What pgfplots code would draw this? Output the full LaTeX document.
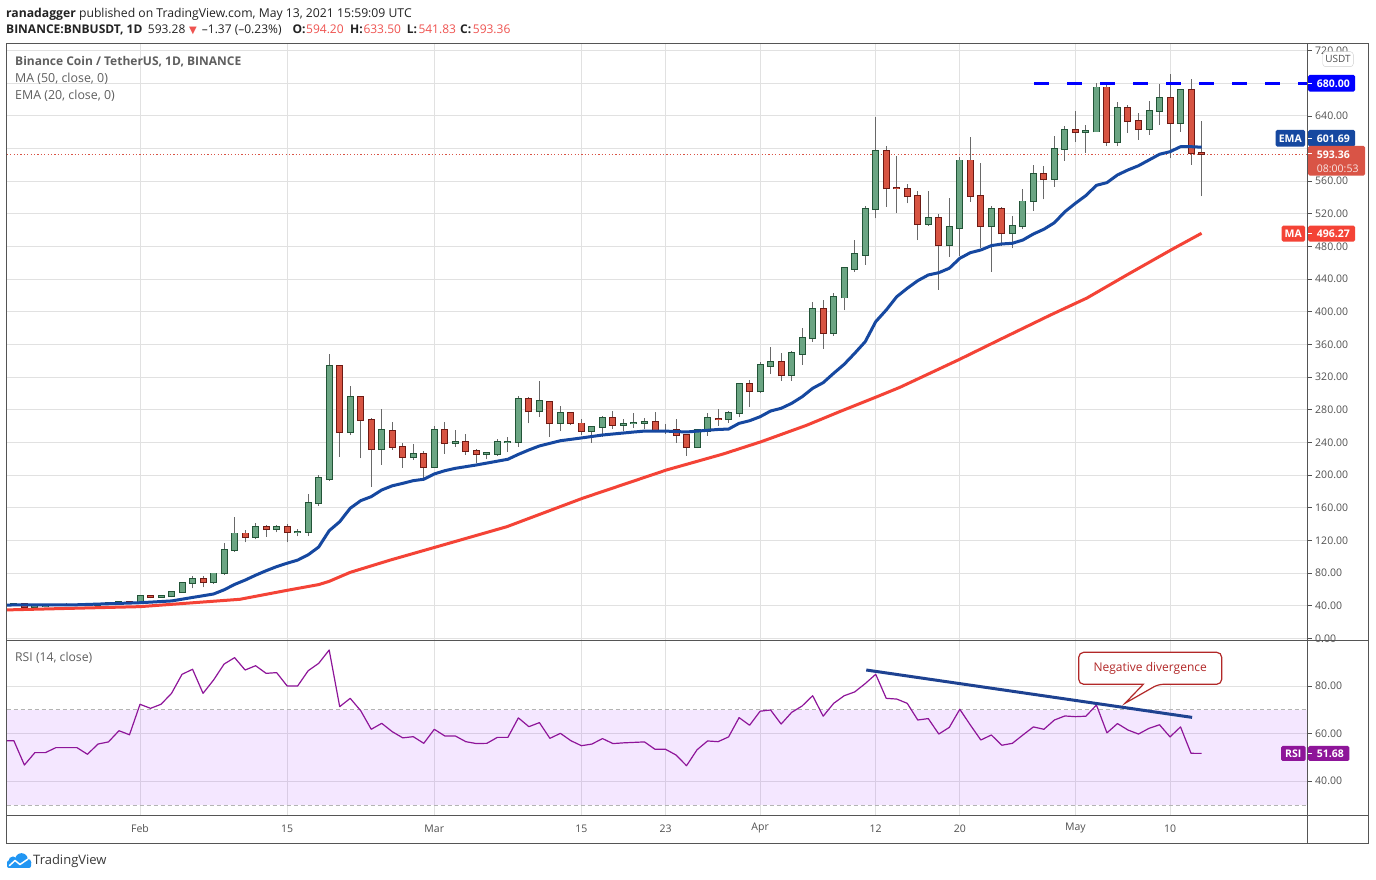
\documentclass[border=0pt]{standalone}
\usepackage{fontspec}
\setmainfont{Open Sans}
\newfontfamily\djv{DejaVu Sans}
\usepackage{pgfplots}
\pgfplotsset{compat=1.18}
\usepackage{pgfplotstable}

\definecolor{gfill}{RGB}{107,165,131}
\definecolor{gbord}{RGB}{34,84,55}
\definecolor{rfill}{RGB}{215,84,66}
\definecolor{rbord}{RGB}{110,26,20}
\definecolor{wick}{RGB}{105,105,105}
\definecolor{emac}{RGB}{22,72,160}
\definecolor{mac}{RGB}{244,67,54}
\definecolor{rsic}{RGB}{142,21,153}
\definecolor{bandc}{RGB}{153,21,255}
\definecolor{gridc}{RGB}{225,225,225}
\definecolor{framec}{RGB}{85,85,85}
\definecolor{tickc}{RGB}{80,80,80}
\definecolor{hdr}{RGB}{35,35,35}
\definecolor{legc}{RGB}{95,95,95}
\definecolor{hred}{RGB}{239,83,80}
\definecolor{lineblue}{RGB}{0,0,255}
\definecolor{closec}{RGB}{217,84,70}
\definecolor{trendc}{RGB}{30,66,145}
\definecolor{callc}{RGB}{178,40,40}
\definecolor{tvblue}{RGB}{33,150,243}
\definecolor{dashg}{RGB}{180,180,180}

\newcommand\fs[1]{\fontsize{#1}{#1}\selectfont}

\pgfplotstableread{
d O H L C
19 41.5 43.8 39.8 42.0
21 38.5 41.9 36.1 39.8
22 39.8 41.0 39.0 40.3
23 40.3 41.5 39.5 41.2
24 41.2 43.0 40.0 41.5
25 41.5 42.5 40.0 41.8
27 40.3 43.0 39.8 42.6
28 42.6 45.0 41.5 43.3
29 43.3 46.0 42.5 45.5
31 43.5 52.0 42.5 51.7
33 51.2 53.0 50.0 51.8
34 51.8 57.5 50.5 56.6
35 56.6 68.5 56.0 67.6
36 67.6 76.5 61.5 72.5
38 68.8 80.5 67.0 79.8
39 79.8 117.3 78.0 108.0
40 108.0 149.0 106.0 128.8
42 123.9 141.5 121.5 136.2
44 133.7 139.0 130.0 136.2
46 130.0 134.0 125.0 130.5
47 130.5 177.0 125.5 165.6
48 165.6 200.0 162.6 196.2
49 195.0 348.4 193.0 333.4
51 252.5 309.0 249.0 295.4
54 231.7 281.0 212.5 255.4
57 221.9 238.0 218.6 225.6
59 209.7 260.0 209.7 255.0
61 239.0 255.4 235.0 240.3
64 225.6 229.0 219.5 226.8
65 226.3 244.3 224.0 240.3
66 240.3 247.0 228.4 241.2
67 240.3 297.0 235.0 293.0
69 277.8 315.4 271.6 290.5
71 263.5 284.8 254.1 275.8
74 253.8 260.0 239.8 258.7
75 258.7 272.5 247.2 269.7
77 261.8 268.5 254.5 262.8
78 263.8 275.8 258.0 264.6
79 264.0 270.4 256.2 264.8
84 234.2 255.5 233.0 255.0
85 254.5 276.6 248.4 269.7
87 268.5 278.6 264.3 275.8
88 275.8 311.3 270.9 311.3
90 302.3 338.3 300.3 334.6
91 334.1 357.0 324.0 338.3
93 321.9 352.1 315.7 349.3
94 348.8 379.9 335.0 367.7
95 367.2 412.0 363.5 403.2
97 374.5 423.5 370.5 417.9
98 417.4 453.4 402.3 453.4
99 452.9 488.0 449.2 470.5
100 470.0 529.7 457.8 525.7
101 525.7 639.0 514.6 596.7
106 508.0 548.0 505.6 514.6
108 481.1 539.9 467.6 503.6
109 503.1 589.3 468.5 585.6
112 504.8 529.7 449.2 525.7
114 495.8 517.5 477.9 504.8
115 504.8 550.5 501.2 535.4
116 535.4 579.9 524.0 568.5
118 562.4 615.4 553.3 599.1
119 599.1 627.7 585.2 622.4
121 620.0 628.9 595.0 621.2
122 620.7 680.0 620.7 675.0
124 608.4 657.4 603.2 650.0
127 623.6 658.3 617.0 646.1
128 646.1 679.0 629.3 661.6
130 631.0 672.4 620.7 671.4
}\greentab

\pgfplotstableread{
d O H L C
20 42.6 43.0 37.5 38.2
26 41.8 42.5 39.5 40.3
30 45.5 46.0 42.5 43.5
32 51.7 52.5 49.0 51.2
37 72.5 76.0 62.5 68.8
41 128.8 132.5 117.8 123.9
43 136.2 139.0 124.7 133.7
45 136.2 140.6 117.8 130.0
50 333.4 335.0 222.7 252.5
52 295.4 296.0 220.7 267.2
53 267.2 269.7 186.0 231.7
55 253.8 265.0 230.9 234.9
56 234.2 239.0 209.2 221.9
58 225.6 229.6 194.1 209.7
60 255.0 265.0 226.0 239.0
62 240.3 250.5 225.0 229.3
63 229.6 232.0 215.3 225.6
68 293.0 295.4 263.5 277.8
70 289.3 290.9 247.2 263.5
72 275.8 277.8 261.5 263.5
73 263.5 268.5 249.2 254.5
76 269.7 278.6 256.6 261.8
80 264.8 277.4 252.5 254.5
81 254.8 262.7 250.5 254.3
82 255.0 268.5 239.8 248.9
83 248.9 249.5 223.9 234.2
86 269.3 281.0 260.6 268.3
89 311.3 316.6 283.9 302.3
92 338.3 349.7 315.7 321.9
96 403.2 414.6 355.0 374.5
102 596.7 603.2 528.8 550.9
103 551.5 591.0 520.8 550.9
104 550.2 556.6 533.0 541.6
105 541.6 548.0 488.0 508.0
107 514.6 519.9 426.8 481.6
110 585.6 613.8 535.0 542.3
111 542.3 582.0 477.9 504.8
113 525.7 528.0 481.1 495.8
117 568.5 578.7 537.9 562.4
120 622.4 646.4 608.4 620.0
123 675.0 680.0 603.2 608.4
125 650.0 653.4 619.5 633.4
126 633.4 644.0 610.5 623.6
129 661.6 691.4 588.1 631.0
131 671.4 684.9 579.9 594.2
132 594.2 633.5 541.83 593.36
}\redtab

\pgfplotsset{
  tvaxis/.style={
    scale only axis, width=1301pt,
    xmin=18.317, xmax=142.1,
    axis line style={draw=none},
    xtick={31,45,59,73,81,90,101,109,120,129},
    xmajorgrids, ymajorgrids,
    grid style={draw=gridc, line width=0.9pt},
    xtick style={draw=none},
    ytick pos=right, yticklabel pos=right,
    tick align=outside, major tick length=4pt,
    ytick style={draw=tickc, line width=0.8pt},
    yticklabel style={font=\fs{10.5}, text=tickc},
    /pgf/number format/assume math mode=true,
    scaled y ticks=false,
  },
  wickst/.style={draw=none, mark=none, error bars/.cd, y dir=plus, y explicit, error mark=none,
     error bar style={draw=wick, line width=1pt, solid}},
  bodyst/.style={draw=none, mark=none, error bars/.cd, y dir=plus, y explicit, error mark=none,
     error bar style={draw=#1, line width=7pt, solid}},
  fillst/.style={draw=none, mark=none, error bars/.cd, y dir=plus, y explicit, error mark=none,
     error bar style={draw=#1, line width=5pt, solid}},
}

\begin{document}
\begin{tikzpicture}[x=1pt,y=1pt]
\useasboundingbox (0,0) rectangle (1376,880);
\fill[white] (0,0) rectangle (1376,880);

% ---------------- main price panel
\begin{axis}[tvaxis, at={(6.7pt,239.5pt)}, anchor=south west, height=597pt,
  ymin=-2.45, ymax=728.7, ytick={0,40,...,720},
  yticklabels={0.00,40.00,80.00,120.00,160.00,200.00,240.00,280.00,320.00,360.00,400.00,440.00,480.00,520.00,560.00,,640.00,,720.00},
  xticklabels={}]
\addplot[closec, mark=none, line width=0.9pt, dash pattern=on 1.2pt off 2.2pt] coordinates {(18.317,593.36) (142.1,593.36)};
% wicks
\addplot[wickst] table[x=d, y=L, y error plus expr={\thisrow{H}-\thisrow{L}}] {\greentab};
\addplot[wickst] table[x=d, y=L, y error plus expr={\thisrow{H}-\thisrow{L}}] {\redtab};
% bodies
\addplot[bodyst=gbord] table[x=d, y expr={min(\thisrow{O},\thisrow{C})-1.0}, y error plus expr={abs(\thisrow{C}-\thisrow{O})+2.0}] {\greentab};
\addplot[fillst=gfill] table[x=d, y expr={min(\thisrow{O},\thisrow{C})+0.2}, y error plus expr={max(abs(\thisrow{C}-\thisrow{O})-0.4,0)}] {\greentab};
\addplot[bodyst=rbord] table[x=d, y expr={min(\thisrow{O},\thisrow{C})-1.0}, y error plus expr={abs(\thisrow{C}-\thisrow{O})+2.0}] {\redtab};
\addplot[fillst=rfill] table[x=d, y expr={min(\thisrow{O},\thisrow{C})+0.2}, y error plus expr={max(abs(\thisrow{C}-\thisrow{O})-0.4,0)}] {\redtab};
% MA 50
\addplot[mac, mark=none, line width=3pt, line join=round] coordinates {
(18.317,35.0) (31,39.0) (40.5,48.0) (45,59.0) (48,66.0) (49,70.0) (51,81.0) (54.8,96.0) (59.5,113.3) (65.9,136.9) (73.1,171.7) (81.1,206.4) (86.5,226.0) (90.1,241.0) (94.4,261.0) (97.6,278.0) (101.1,296.0) (103.3,307.6) (109,342.0) (112.8,366.0) (117.6,396.0) (121.1,417.0) (125,446.0) (129.2,476.6) (132,496.27)};
% EMA 20
\addplot[emac, mark=none, line width=3pt, line join=round] coordinates {
(18.317,41.0) (25,41.3) (31,43.8) (34,46.0) (38,54.5) (39,59.6) (40,66.2) (41,71.5) (42,77.5) (43,83.0) (44,88.0) (45,92.2) (46,96.0) (47,102.5) (48,112.0) (49,132.0) (50,143.0) (51,159.5) (52,168.8) (53,173.7) (54,181.9) (55,187.0) (56,190.0) (57,193.3) (58,195.0) (59,201.5) (60,205.5) (61,208.4) (63,212.5) (66,219.5) (67,225.5) (68,230.9) (69,235.8) (71,242.2) (73,245.6) (75,249.2) (78,252.9) (79,254.0) (81,254.0) (83,252.9) (85,255.0) (86,256.0) (87,256.5) (88,263.5) (89,266.7) (90,271.6) (91,278.6) (92,281.9) (93,288.0) (94,296.1) (95,306.4) (96,313.3) (97,324.8) (98,335.8) (99,349.3) (100,363.5) (101,388.0) (102,402.3) (103,418.6) (104,428.9) (105,438.2) (106,445.2) (107,448.0) (108,453.4) (109,465.6) (110,472.5) (111,475.8) (112,481.1) (113,483.2) (114,484.0) (115,488.0) (116,495.4) (117,501.2) (118,509.2) (119,522.7) (120,533.0) (121,542.5) (122,555.0) (123,558.3) (124,567.7) (125,573.8) (126,579.0) (127,586.0) (128,593.0) (129,596.2) (130,602.3) (131,602.3) (132,601.69)};
% resistance 680
\addplot[lineblue, mark=none, line width=3pt, dash pattern=on 15pt off 18pt] coordinates {(116.06,680) (142.1,680)};
\end{axis}

% ---------------- RSI panel
\begin{axis}[tvaxis, at={(6.7pt,65pt)}, anchor=south west, height=174.5pt,
  ymin=25.8, ymax=99.1, ytick={40,60,80}, yticklabels={40.00,60.00,80.00},
  xticklabels={Feb,15,Mar,15,23,Apr,12,20,May,10},
  xticklabel style={font=\fs{10.5}, text=tickc, anchor=center, yshift=-9.5pt}]
\addplot[draw=none, fill=bandc, fill opacity=0.1] coordinates {(18.317,30) (142.1,30) (142.1,70) (18.317,70)} -- cycle;
\addplot[dashg, mark=none, line width=0.9pt, dash pattern=on 4pt off 3pt] coordinates {(18.317,70) (142.1,70)};
\addplot[dashg, mark=none, line width=0.9pt, dash pattern=on 4pt off 3pt] coordinates {(18.317,30) (142.1,30)};
\addplot[rsic, mark=none, line width=1.2pt, line join=round] coordinates {
(18.317,57.0) (19,57.0) (20,46.8) (21,52.0) (22,52.0) (23,54.1) (24,54.1) (25,54.1) (26,51.3) (27,55.6) (28,56.5) (29,61.2) (30,59.5) (31,72.3) (32,70.6) (33,72.3) (34,76.9) (35,84.9) (36,87.0) (37,76.9) (38,82.5) (39,89.2) (40,91.9) (41,86.7) (42,88.5) (43,85.3) (44,85.6) (45,80.0) (46,80.0) (47,86.4) (48,89.5) (49,95.1) (50,71.3) (51,74.8) (52,69.6) (53,61.8) (54,64.3) (55,60.8) (56,58.2) (57,58.7) (58,55.9) (59,61.8) (60,59.0) (61,59.0) (62,56.6) (63,55.8) (64,55.9) (65,58.4) (66,58.4) (67,66.6) (68,62.9) (69,64.6) (70,58.0) (71,60.1) (72,57.0) (73,54.9) (74,55.6) (75,57.9) (76,55.8) (77,56.1) (78,56.3) (79,56.5) (80,53.4) (81,53.4) (82,51.0) (83,46.5) (84,53.2) (85,56.9) (86,56.6) (87,58.6) (88,66.7) (89,63.5) (90,69.4) (91,69.9) (92,64.0) (93,68.9) (94,71.6) (95,75.9) (96,67.3) (97,72.7) (98,75.9) (99,77.5) (100,81.0) (101,84.9) (102,74.8) (103,74.5) (104,72.7) (105,65.7) (106,66.3) (107,59.8) (108,62.6) (109,70.2) (110,63.6) (111,57.3) (112,59.4) (113,55.1) (114,55.9) (115,59.4) (116,62.8) (117,61.8) (118,65.7) (119,67.4) (120,67.1) (121,67.3) (122,72.0) (123,60.3) (124,64.2) (125,61.5) (126,59.8) (127,62.2) (128,63.7) (129,58.6) (130,62.8) (131,51.7) (132,51.68)};
\addplot[trendc, mark=none, line width=3pt] coordinates {(100.1,86.7) (131.1,66.8)};
\end{axis}

% ---------------- frame
\draw[framec, line width=0.9pt] (6.7,37) rectangle (1368.5,836.7);
\draw[framec, line width=0.9pt] (6.7,239.5) -- (1368.5,239.5);
\draw[framec, line width=0.9pt] (6.7,65) -- (1368.5,65);
\draw[framec, line width=0.9pt] (1307.7,37) -- (1307.7,836.7);

% ---------------- header
\node[anchor=base west, inner sep=0, font=\fs{12.2}, text=hdr] at (6,862.4) {\textbf{ranadagger} published on TradingView.com, May 13, 2021 15:59:09 UTC};
\begin{scope}[every node/.style={anchor=base west, inner sep=0, font=\fs{12}, text=hdr}]
\node at (6,846.4) {\textbf{BINANCE:BNBUSDT, 1D}};
\node at (147.7,846.4) {593.28};
\node[text=hred] at (189,846.4) {\djv\fs{10}▼};
\node at (201.7,846.4) {–1.37 (–0.23\%)};
\node at (292.3,846.4) {\textbf{O:}};
\node[text=hred] at (306,846.4) {594.20};
\node at (350,846.4) {\textbf{H:}};
\node[text=hred] at (363.3,846.4) {633.50};
\node at (406.7,846.4) {\textbf{L:}};
\node[text=hred] at (418.3,846.4) {541.83};
\node at (460,846.4) {\textbf{C:}};
\node[text=hred] at (472.7,846.4) {593.36};
\end{scope}

% ---------------- legends
\node[anchor=base west, inner sep=0, font=\fs{12}\bfseries, text=legc] at (15,814.7) {Binance Coin / TetherUS, 1D, BINANCE};
\node[anchor=base west, inner sep=0, font=\fs{12.4}, text=legc] at (15,797.4) {MA (50, close, 0)};
\node[anchor=base west, inner sep=0, font=\fs{12.4}, text=legc] at (15,780) {EMA (20, close, 0)};
\node[anchor=base west, inner sep=0, font=\fs{12.2}, text=legc] at (15,218.2) {RSI (14, close)};

% ---------------- price-scale labels
\fill[white, draw=gridc!80!gray, rounded corners=3pt] (1322.7,813.3) rectangle (1353.3,828.3);
\node[font=\fs{10}, text=tickc, inner sep=0] at (1338,820.8) {USDT};
% 680
\fill[lineblue, rounded corners=1.5pt] (1308.2,788.3) rectangle (1355,805);
\draw[white, line width=0.8pt] (1308.2,796.7) -- (1312,796.7);
\node[anchor=west, inner sep=0, font=\fs{10.5}\bfseries, text=white] at (1316.7,796.7) {680.00};
% EMA
\fill[emac, rounded corners=1.5pt] (1275.7,733.3) rectangle (1305,750);
\node[inner sep=0, font=\fs{10.5}\bfseries, text=white] at (1290.3,741.7) {EMA};
\fill[emac, rounded corners=1.5pt] (1308.2,733.3) rectangle (1355,750);
\draw[white, line width=0.8pt] (1308.2,741.7) -- (1312,741.7);
\node[anchor=west, inner sep=0, font=\fs{10.5}\bfseries, text=white] at (1316.7,741.7) {601.69};
% close
\fill[closec, rounded corners=1.5pt] (1308.2,704.3) rectangle (1365,734);
\draw[white, line width=0.8pt] (1308.2,726.6) -- (1312,726.6);
\node[anchor=west, inner sep=0, font=\fs{10.5}\bfseries, text=white] at (1316.7,725) {593.36};
\node[anchor=west, inner sep=0, font=\fs{10.5}, text=white!85!closec] at (1316.7,711.7) {08:00:53};
% MA
\fill[mac, rounded corners=1.5pt] (1281.7,638.3) rectangle (1305,654.3);
\node[inner sep=0, font=\fs{10.5}\bfseries, text=white] at (1293.3,646.3) {MA};
\fill[mac, rounded corners=1.5pt] (1308.2,638.3) rectangle (1355,654.3);
\draw[white, line width=0.8pt] (1308.2,646.3) -- (1312,646.3);
\node[anchor=west, inner sep=0, font=\fs{10.5}\bfseries, text=white] at (1316.7,646.3) {496.27};
% RSI
\fill[rsic, rounded corners=1.5pt] (1281,119) rectangle (1305.7,134);
\node[inner sep=0, font=\fs{10.5}\bfseries, text=white] at (1293.3,126.5) {RSI};
\fill[rsic, rounded corners=1.5pt] (1308.2,119) rectangle (1349.3,134);
\draw[white, line width=0.8pt] (1308.2,126.5) -- (1312,126.5);
\node[anchor=west, inner sep=0, font=\fs{10.5}\bfseries, text=white] at (1316.7,126.5) {51.68};

% ---------------- callout
\draw[callc, line width=1.2pt, fill=white]
  (1150,227.7) [rounded corners=5pt] -- (1221.7,227.7) -- (1221.7,195.7) -- (1158.3,195.7) [sharp corners] -- (1125,176.7) -- (1143.3,195.7) [rounded corners=5pt] -- (1078.7,195.7) -- (1078.7,227.7) -- (1150,227.7);
\node[font=\fs{12}, text=callc, inner sep=0] at (1150.2,212) {Negative divergence};

% ---------------- TradingView logo
\fill[tvblue, rounded corners=2pt] (7,12) rectangle (31,19.5);
\fill[tvblue] (13,19) circle (4.5);
\fill[tvblue] (21.5,20.5) circle (6.3);
\fill[tvblue] (27.5,17.5) circle (3.8);
\draw[white, line width=1.5pt, line join=round, line cap=round] (9.5,14.5) -- (15,19.5) -- (20,15.5) -- (28,21);
\node[anchor=west, inner sep=0, font=\fs{13}, text=hdr!90!white] at (33,19) {TradingView};
\end{tikzpicture}
\end{document}
